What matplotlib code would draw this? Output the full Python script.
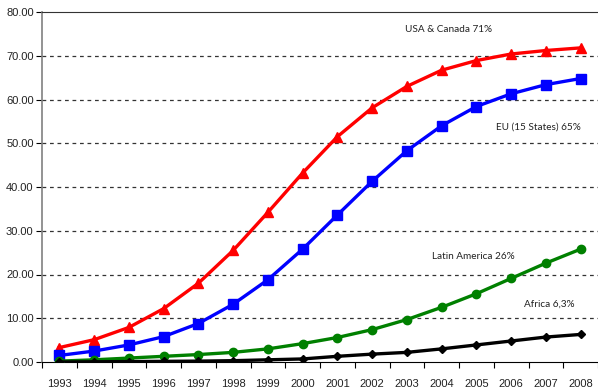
import numpy as np
import matplotlib.pyplot as plt

years = np.arange(1993, 2009)
usa_canada = [3.3, 5.1, 7.9, 12.2, 18.0, 25.5, 34.2, 43.2, 51.5, 58.1, 63.0, 66.7, 68.9, 70.4, 71.2, 71.8]
eu15 = [1.5, 2.5, 3.9, 5.8, 8.8, 13.2, 18.8, 25.8, 33.6, 41.3, 48.3, 54.0, 58.4, 61.3, 63.4, 64.8]
latin_america = [0.2, 0.5, 0.9, 1.3, 1.7, 2.2, 3.0, 4.2, 5.6, 7.4, 9.7, 12.5, 15.6, 19.1, 22.6, 25.8]
africa = [0.0, 0.05, 0.1, 0.15, 0.2, 0.3, 0.5, 0.7, 1.3, 1.8, 2.2, 3.0, 3.9, 4.8, 5.7, 6.3]

labels = ["USA & Canada 71%", "EU (15 States) 65%", "Latin America 26%", "Africa 6,3%"]

fig = plt.figure(figsize=(5.98, 3.91), dpi=100)
ax = fig.add_axes([42 / 598, 1 - 362 / 391, 556 / 598, 350 / 391])

x = np.arange(len(years))
ax.plot(x, usa_canada, color="#ff0000", lw=2.4, marker="^", ms=7, zorder=3)
ax.plot(x, eu15, color="#0000ff", lw=2.4, marker="s", ms=7, zorder=3)
ax.plot(x, latin_america, color="#008000", lw=2.4, marker="o", ms=6, zorder=3)
ax.plot(x, africa, color="#000000", lw=2.4, marker="D", ms=4.5, zorder=3)

ax.set_xlim(-16 / 35, 15 + 15 / 35)
ax.set_ylim(0, 80)

ax.set_yticks(np.arange(0, 81, 10))
ax.set_yticklabels([f"{v:.2f}" for v in range(0, 81, 10)], fontsize=8,
                   family="Liberation Sans", color="#222222")
ax.set_xticks(x)
ax.set_xticklabels([str(y) for y in years], fontsize=8,
                   family="Liberation Sans", color="#222222")
ax.set_xticks(np.arange(-0.5, 16, 1), minor=True)
ax.tick_params(axis="x", which="major", length=0, pad=12)
ax.tick_params(axis="x", which="minor", length=4, width=0.8, direction="out")
ax.tick_params(axis="y", length=4, width=0.8, direction="out", pad=2)

for v in range(10, 80, 10):
    ax.axhline(v, color="#333333", lw=0.9, ls=(0, (3, 3)), zorder=1)

ax.spines["right"].set_visible(False)
ax.spines["left"].set_color("#808080")
ax.spines["left"].set_linewidth(1.2)
ax.spines["top"].set_color("#333333")
ax.spines["bottom"].set_color("#000000")

# series labels placed near their curves
text_pos = [(11.2, 76.0), (13.8, 53.8), (11.9, 24.1), (14.1, 13.1)]
for (tx, ty), txt in zip(text_pos, labels):
    ax.text(tx, ty, txt, fontsize=7.2, family="Lato", color="#222222",
            ha="center", va="center")

fig.savefig("out.png", dpi=100)
